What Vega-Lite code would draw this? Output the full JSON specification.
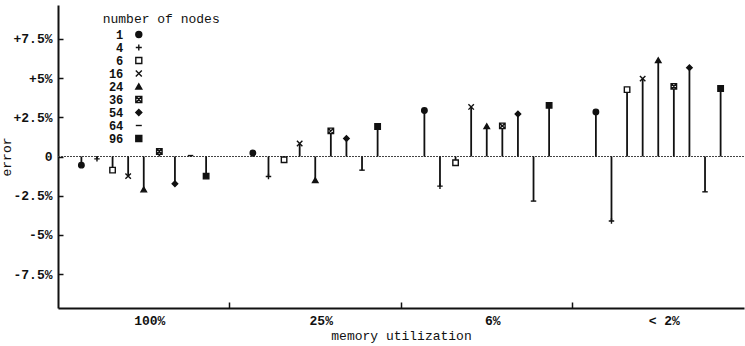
{
  "$schema": "https://vega.github.io/schema/vega-lite/v6.json",
  "width": 686,
  "height": 303,
  "autosize": {"type": "none"},
  "padding": {"left": 58, "top": 5, "right": 1, "bottom": 38},
  "background": "white",
  "config": {
    "view": {"stroke": null},
    "font": "Liberation Mono",
    "axis": {
      "labelFont": "Liberation Mono",
      "labelFontSize": 13,
      "labelFontWeight": "bold",
      "labelColor": "#111",
      "titleFont": "Liberation Mono",
      "titleFontSize": 13,
      "titleFontWeight": "normal",
      "titleColor": "#111",
      "domainColor": "#111",
      "domainWidth": 2,
      "tickColor": "#111",
      "tickWidth": 1.5,
      "grid": false
    },
    "legend": {
      "labelFont": "Liberation Mono",
      "titleFont": "Liberation Mono",
      "title": null
    }
  },
  "data": {
    "values": [
      {"memory": "100%", "nodes": "1", "error": -0.55},
      {"memory": "100%", "nodes": "4", "error": -0.15},
      {"memory": "100%", "nodes": "6", "error": -0.87},
      {"memory": "100%", "nodes": "16", "error": -1.25},
      {"memory": "100%", "nodes": "24", "error": -2.1},
      {"memory": "100%", "nodes": "36", "error": 0.32},
      {"memory": "100%", "nodes": "54", "error": -1.74},
      {"memory": "100%", "nodes": "64", "error": 0.06},
      {"memory": "100%", "nodes": "96", "error": -1.25},
      {"memory": "25%", "nodes": "1", "error": 0.22},
      {"memory": "25%", "nodes": "4", "error": -1.27},
      {"memory": "25%", "nodes": "6", "error": -0.21},
      {"memory": "25%", "nodes": "16", "error": 0.83},
      {"memory": "25%", "nodes": "24", "error": -1.51},
      {"memory": "25%", "nodes": "36", "error": 1.63},
      {"memory": "25%", "nodes": "54", "error": 1.15},
      {"memory": "25%", "nodes": "64", "error": -0.87},
      {"memory": "25%", "nodes": "96", "error": 1.91},
      {"memory": "6%", "nodes": "1", "error": 2.93},
      {"memory": "6%", "nodes": "4", "error": -1.89},
      {"memory": "6%", "nodes": "6", "error": -0.4},
      {"memory": "6%", "nodes": "16", "error": 3.16},
      {"memory": "6%", "nodes": "24", "error": 1.93},
      {"memory": "6%", "nodes": "36", "error": 1.95},
      {"memory": "6%", "nodes": "54", "error": 2.71},
      {"memory": "6%", "nodes": "64", "error": -2.84},
      {"memory": "6%", "nodes": "96", "error": 3.26},
      {"memory": "< 2%", "nodes": "1", "error": 2.84},
      {"memory": "< 2%", "nodes": "4", "error": -4.11},
      {"memory": "< 2%", "nodes": "6", "error": 4.26},
      {"memory": "< 2%", "nodes": "16", "error": 4.96},
      {"memory": "< 2%", "nodes": "24", "error": 6.13},
      {"memory": "< 2%", "nodes": "36", "error": 4.47},
      {"memory": "< 2%", "nodes": "54", "error": 5.66},
      {"memory": "< 2%", "nodes": "64", "error": -2.25},
      {"memory": "< 2%", "nodes": "96", "error": 4.33}
    ]
  },
  "layer": [
    {
      "mark": {"type": "rule", "strokeDash": [1.5, 1.5], "strokeWidth": 1, "color": "#444"},
      "encoding": {"y": {"datum": 0, "type": "quantitative"}}
    },
    {
      "mark": {"type": "rule", "strokeWidth": 1.8, "color": "#111"},
      "encoding": {
        "x": {
          "field": "memory", "type": "nominal",
          "sort": ["100%", "25%", "6%", "< 2%"],
          "scale": {"paddingInner": 0, "paddingOuter": -0.0511, "align": 0.333},
          "title": "memory utilization",
          "axis": {
            "bandPosition": 0,
            "tickSize": -6,
            "tickOpacity": {"condition": {"test": "datum.value === '100%'", "value": 0}, "value": 1},
            "labelOffset": 6,
            "labelPadding": 12,
            "labelAngle": 0,
            "titlePadding": 2
          }
        },
        "xOffset": {
          "field": "nodes", "type": "nominal",
          "sort": ["1", "4", "6", "16", "24", "36", "54", "64", "96"],
          "scale": {"paddingInner": 0, "paddingOuter": 1.446}
        },
        "y": {
          "field": "error", "type": "quantitative",
          "scale": {"domain": [-9.65, 9.65], "nice": false, "zero": false},
          "title": "error",
          "axis": {
            "values": [-7.5, -5, -2.5, 0, 2.5, 5, 7.5],
            "labelExpr": "datum.value > 0 ? '+' + datum.value + '%' : (datum.value == 0 ? '0' : datum.value + '%')",
            "tickSize": -5,
            "labelPadding": 11,
            "titlePadding": -1
          }
        },
        "y2": {"datum": 0}
      }
    },
    {
      "mark": {"type": "point", "filled": false, "strokeWidth": 1.4, "size": 30, "opacity": 1},
      "encoding": {
        "x": {"field": "memory", "type": "nominal", "sort": ["100%", "25%", "6%", "< 2%"]},
        "xOffset": {"field": "nodes", "type": "nominal", "sort": ["1", "4", "6", "16", "24", "36", "54", "64", "96"]},
        "y": {"field": "error", "type": "quantitative"},
        "shape": {
          "field": "nodes", "type": "nominal",
          "sort": ["1", "4", "6", "16", "24", "36", "54", "64", "96"],
          "scale": {
            "domain": ["1", "4", "6", "16", "24", "36", "54", "64", "96"],
            "range": ["circle", "M0,-1V1M-1,0H1", "square", "M-1,-1L1,1M-1,1L1,-1", "triangle-up", "M-1,-1H1V1H-1ZM-1,-1L1,1M-1,1L1,-1", "diamond", "M-1,0H1", "square"]
          },
          "legend": {
            "title": "number of nodes",
            "orient": "none",
            "legendX": 44.7,
            "legendY": 7.5,
            "padding": 0,
            "titleFontSize": 13,
            "titleFontWeight": "normal",
            "titleColor": "#111",
            "titlePadding": 3,
            "labelFontSize": 12,
            "labelFontWeight": "bold",
            "labelColor": "#111",
            "labelAlign": "right",
            "labelOffset": -21.5,
            "symbolOffset": 30.1,
            "symbolSize": 36,
            "symbolStrokeWidth": 1.4,
            "rowPadding": 1
          }
        },
        "fill": {
          "field": "nodes", "type": "nominal",
          "sort": ["1", "4", "6", "16", "24", "36", "54", "64", "96"],
          "scale": {
            "domain": ["1", "4", "6", "16", "24", "36", "54", "64", "96"],
            "range": ["#111", "#111", "white", "#111", "#111", "white", "#111", "#111", "#111"]
          },
          "legend": {
            "title": "number of nodes",
            "orient": "none",
            "legendX": 44.7,
            "legendY": 7.5,
            "padding": 0,
            "titleFontSize": 13,
            "titleFontWeight": "normal",
            "titleColor": "#111",
            "titlePadding": 3,
            "labelFontSize": 12,
            "labelFontWeight": "bold",
            "labelColor": "#111",
            "labelAlign": "right",
            "labelOffset": -21.5,
            "symbolOffset": 30.1,
            "symbolSize": 36,
            "symbolStrokeWidth": 1.4,
            "rowPadding": 1
          }
        },
        "stroke": {
          "field": "nodes", "type": "nominal",
          "sort": ["1", "4", "6", "16", "24", "36", "54", "64", "96"],
          "scale": {
            "domain": ["1", "4", "6", "16", "24", "36", "54", "64", "96"],
            "range": ["#111", "#111", "#111", "#111", "#111", "#111", "#111", "#111", "#111"]
          },
          "legend": {
            "title": "number of nodes",
            "orient": "none",
            "legendX": 44.7,
            "legendY": 7.5,
            "padding": 0,
            "titleFontSize": 13,
            "titleFontWeight": "normal",
            "titleColor": "#111",
            "titlePadding": 3,
            "labelFontSize": 12,
            "labelFontWeight": "bold",
            "labelColor": "#111",
            "labelAlign": "right",
            "labelOffset": -21.5,
            "symbolOffset": 30.1,
            "symbolSize": 36,
            "symbolStrokeWidth": 1.4,
            "rowPadding": 1
          }
        }
      }
    }
  ]
}
